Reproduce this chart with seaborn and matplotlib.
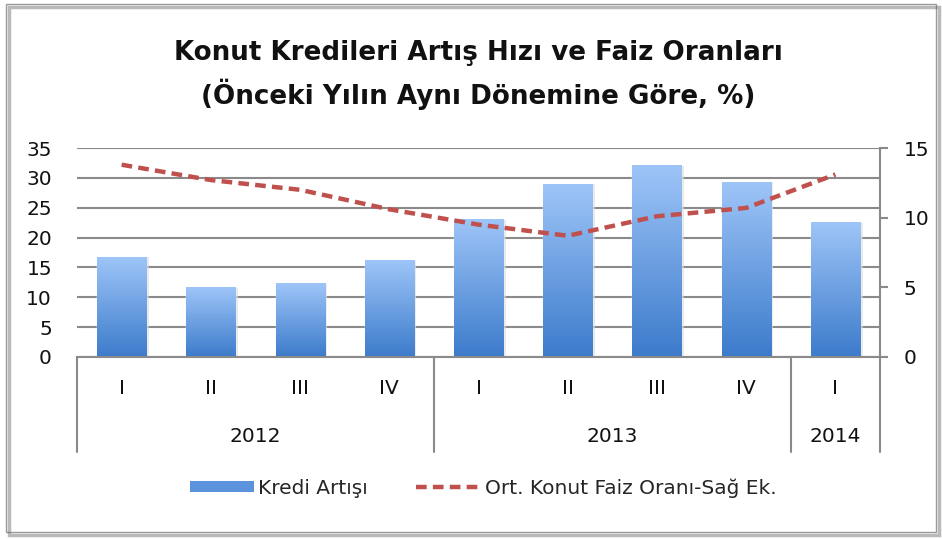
import numpy as np
import matplotlib
matplotlib.use("Agg")
import matplotlib.pyplot as plt
import seaborn as sns
from matplotlib.colors import LinearSegmentedColormap
from matplotlib.lines import Line2D
from matplotlib.patches import Patch, Rectangle

# Veriler
ceyrekler = ['I', 'II', 'III', 'IV', 'I', 'II', 'III', 'IV', 'I']
yillar = ['2012', '2013', '2014']
yil_ceyrek_sayisi = [4, 4, 1]
kredi_artisi = [16.7, 11.6, 12.3, 16.1, 23.0, 28.9, 32.0, 29.2, 22.5]
faiz_orani = [13.8, 12.7, 12.0, 10.6, 9.5, 8.7, 10.1, 10.7, 13.1]

sns.set_style("white")
plt.rcParams['font.family'] = ['DejaVu Sans']

fig = plt.figure(figsize=(9.42, 5.39), dpi=100)
W, H = 942, 539
ax = fig.add_axes([77 / W, 1 - 357 / H, (880 - 77) / W, (357 - 148) / H])

x = np.arange(len(kredi_artisi))
sns.barplot(x=x, y=kredi_artisi, ax=ax, width=0.55, color='#5B93DC', zorder=2)

# gradyan dolgulu sütunlar
cmap = LinearSegmentedColormap.from_list('mavi', ['#3C7BCB', '#9EC5F8'])
grad = np.linspace(0, 1, 256).reshape(-1, 1)
for p in list(ax.patches):
    x0, w, h = p.get_x(), p.get_width(), p.get_height()
    ax.add_patch(Rectangle((x0 + 0.03, 0), w, h, facecolor='#d9d9d9', edgecolor='none', zorder=1.5, alpha=0.6))
    ax.imshow(grad, extent=[x0, x0 + w, 0, h], origin='lower', cmap=cmap, aspect='auto', zorder=2.5)
    p.set_facecolor('none')

ax.set_xlim(-0.5, 8.5)
ax.set_ylim(0, 35)
ax.set_yticks(range(0, 36, 5))
ax.grid(axis='y', color='#8a8a8a', lw=1.5, zorder=0)
ax.set_axisbelow(True)
ax.set_xticks([])
ax.set_xlabel('')
for s in ['left', 'top', 'right']:
    ax.spines[s].set_visible(False)
ax.spines['bottom'].set_color('#8a8a8a')
ax.spines['bottom'].set_linewidth(1.5)
ax.tick_params(axis='y', length=0, pad=18, labelsize=14.5, labelcolor='#111111')

ax2 = ax.twinx()
sns.lineplot(x=x, y=faiz_orani, ax=ax2, color='#C0504D', lw=3.2, zorder=5)
ax2.lines[0].set_dashes((2.4, 1.4))
ax2.set_ylim(0, 15)
ax2.set_yticks([0, 5, 10, 15])
ax2.set_xlim(-0.5, 8.5)
for s in ['left', 'top', 'bottom']:
    ax2.spines[s].set_visible(False)
ax2.spines['right'].set_color('#8a8a8a')
ax2.spines['right'].set_linewidth(1.5)
ax2.tick_params(axis='y', length=6, width=1.5, color='#8a8a8a', pad=11, labelsize=14.5, labelcolor='#111111')

# kategori etiketleri
trans = ax.get_xaxis_transform()
alt = (357 - 452) / (357 - 148)
for i, c in enumerate(ceyrekler):
    ax.text(i, (357 - 388) / (357 - 148), c, transform=trans, ha='center', va='center', fontsize=14.5, color='#111111')
sinirlar = [-0.5]
for n in yil_ceyrek_sayisi:
    sinirlar.append(sinirlar[-1] + n)
for j, y in enumerate(yillar):
    orta = (sinirlar[j] + sinirlar[j + 1]) / 2
    ax.text(orta, (357 - 437) / (357 - 148), y, transform=trans, ha='center', va='center', fontsize=14.5, color='#111111')
for b in sinirlar:
    ax.add_line(Line2D([b, b], [0, alt], transform=trans, color='#8a8a8a', lw=1.5, clip_on=False))

# başlık
fig.text(478 / W, 1 - 53 / H, 'Konut Kredileri Artış Hızı ve Faiz Oranları', ha='center', va='center',
         fontsize=18.8, fontweight='bold', color='#111111')
fig.text(478 / W, 1 - 94 / H, '(Önceki Yılın Aynı Dönemine Göre, %)', ha='center', va='center',
         fontsize=18.8, fontweight='bold', color='#111111')

# lejant
handles = [Patch(facecolor='#5B93DC', edgecolor='none'),
           Line2D([], [], color='#C0504D', lw=3.2, dashes=(2.4, 1.4))]
fig.legend(handles, ['Kredi Artışı', 'Ort. Konut Faiz Oranı-Sağ Ek.'], loc='center',
           bbox_to_anchor=(483 / W, 1 - 488 / H), ncol=2, frameon=False, fontsize=14.5,
           handlelength=3.2, handleheight=0.5, columnspacing=2.4, handletextpad=0.2)

# çerçeve
fig.patches.append(Rectangle((9 / W, 4 / H), 930 / W, 528 / H, transform=fig.transFigure,
                             facecolor='none', edgecolor='#666666', lw=2.5, alpha=0.45))
fig.patches.append(Rectangle((6 / W, 7 / H), 930 / W, 528 / H, transform=fig.transFigure,
                             facecolor='white', edgecolor='#9a9a9a', lw=1.0, zorder=-1))

fig.savefig('out.png', dpi=100)
